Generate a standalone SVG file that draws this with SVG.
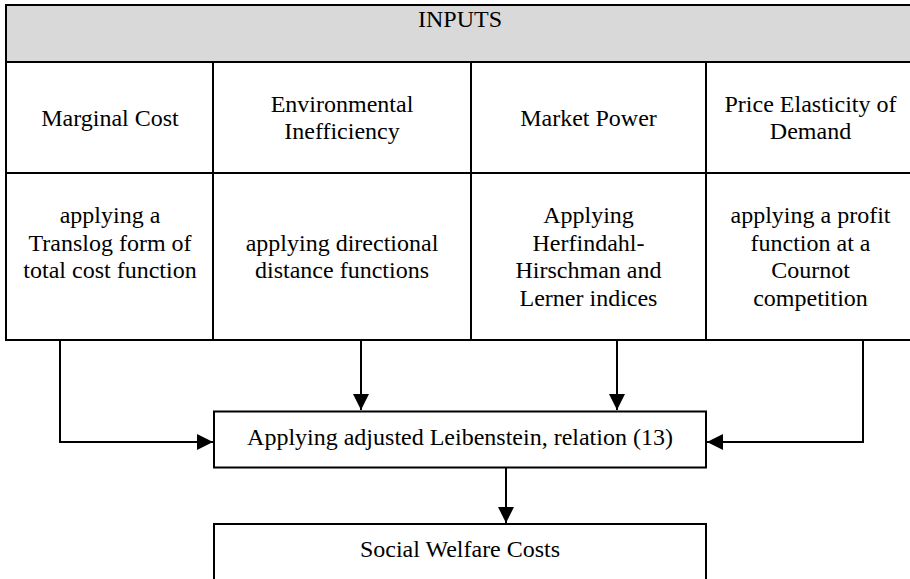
<svg xmlns="http://www.w3.org/2000/svg" width="910" height="579" viewBox="0 0 910 579">
<style>
.cell{fill:#fff;stroke:#000;stroke-width:2}
.hdr{fill:#d9d9d9;stroke:#000;stroke-width:2}
.t{font-family:"Liberation Serif","Times New Roman",serif;font-size:24px;fill:#000;text-anchor:middle}
.c{stroke:#000;stroke-width:2;fill:none}
</style>
<defs>
<marker id="ah" markerWidth="16" markerHeight="16" viewBox="0 0 16 16" refX="16" refY="8" orient="auto" markerUnits="userSpaceOnUse">
<path d="M0,0 L16,8 L0,16 Z" fill="#000"/>
</marker>
</defs>
<rect width="910" height="579" fill="#fff"/>
<g id="inputs">
<rect class="hdr" x="6" y="5" width="910" height="57"/>
<text class="t" x="460" y="27">INPUTS</text>
</g>
<g id="marginal-cost">
<rect class="cell" x="6" y="62" width="207" height="111"/>
<text class="t" x="110" y="126">Marginal Cost</text>
</g>
<g id="environmental-inefficiency">
<rect class="cell" x="213" y="62" width="258" height="111"/>
<text class="t" x="342" y="112">Environmental</text>
<text class="t" x="342" y="138.5">Inefficiency</text>
</g>
<g id="market-power">
<rect class="cell" x="471" y="62" width="235" height="111"/>
<text class="t" x="588.5" y="126">Market Power</text>
</g>
<g id="price-elasticity">
<rect class="cell" x="706" y="62" width="210" height="111"/>
<text class="t" x="810.5" y="112">Price Elasticity of</text>
<text class="t" x="810.5" y="138.5">Demand</text>
</g>
<g id="translog">
<rect class="cell" x="6" y="173" width="207" height="167"/>
<text class="t" x="110" y="223">applying a</text>
<text class="t" x="110" y="250.5">Translog form of</text>
<text class="t" x="110" y="278">total cost function</text>
</g>
<g id="directional">
<rect class="cell" x="213" y="173" width="258" height="167"/>
<text class="t" x="342" y="250.5">applying directional</text>
<text class="t" x="342" y="278">distance functions</text>
</g>
<g id="hhi-lerner">
<rect class="cell" x="471" y="173" width="235" height="167"/>
<text class="t" x="588.5" y="223">Applying</text>
<text class="t" x="588.5" y="250.5">Herfindahl-</text>
<text class="t" x="588.5" y="278">Hirschman and</text>
<text class="t" x="588.5" y="305.5">Lerner indices</text>
</g>
<g id="cournot">
<rect class="cell" x="706" y="173" width="210" height="167"/>
<text class="t" x="810.5" y="223">applying a profit</text>
<text class="t" x="810.5" y="250.5">function at a</text>
<text class="t" x="810.5" y="278">Cournot</text>
<text class="t" x="810.5" y="305.5">competition</text>
</g>
<g id="connectors">
<path class="c" d="M60,341 V442 H213" marker-end="url(#ah)"/>
<path class="c" d="M361,341 V410" marker-end="url(#ah)"/>
<path class="c" d="M617,341 V410" marker-end="url(#ah)"/>
<path class="c" d="M863,341 V442 H707" marker-end="url(#ah)"/>
<path class="c" d="M506,468 V523" marker-end="url(#ah)"/>
</g>
<g id="leibenstein">
<rect class="cell" x="214" y="411.5" width="492" height="56"/>
<text class="t" x="460" y="445">Applying adjusted Leibenstein, relation (13)</text>
</g>
<g id="social-welfare">
<rect class="cell" x="214" y="524" width="492" height="70"/>
<text class="t" x="460" y="557">Social Welfare Costs</text>
</g>
</svg>
